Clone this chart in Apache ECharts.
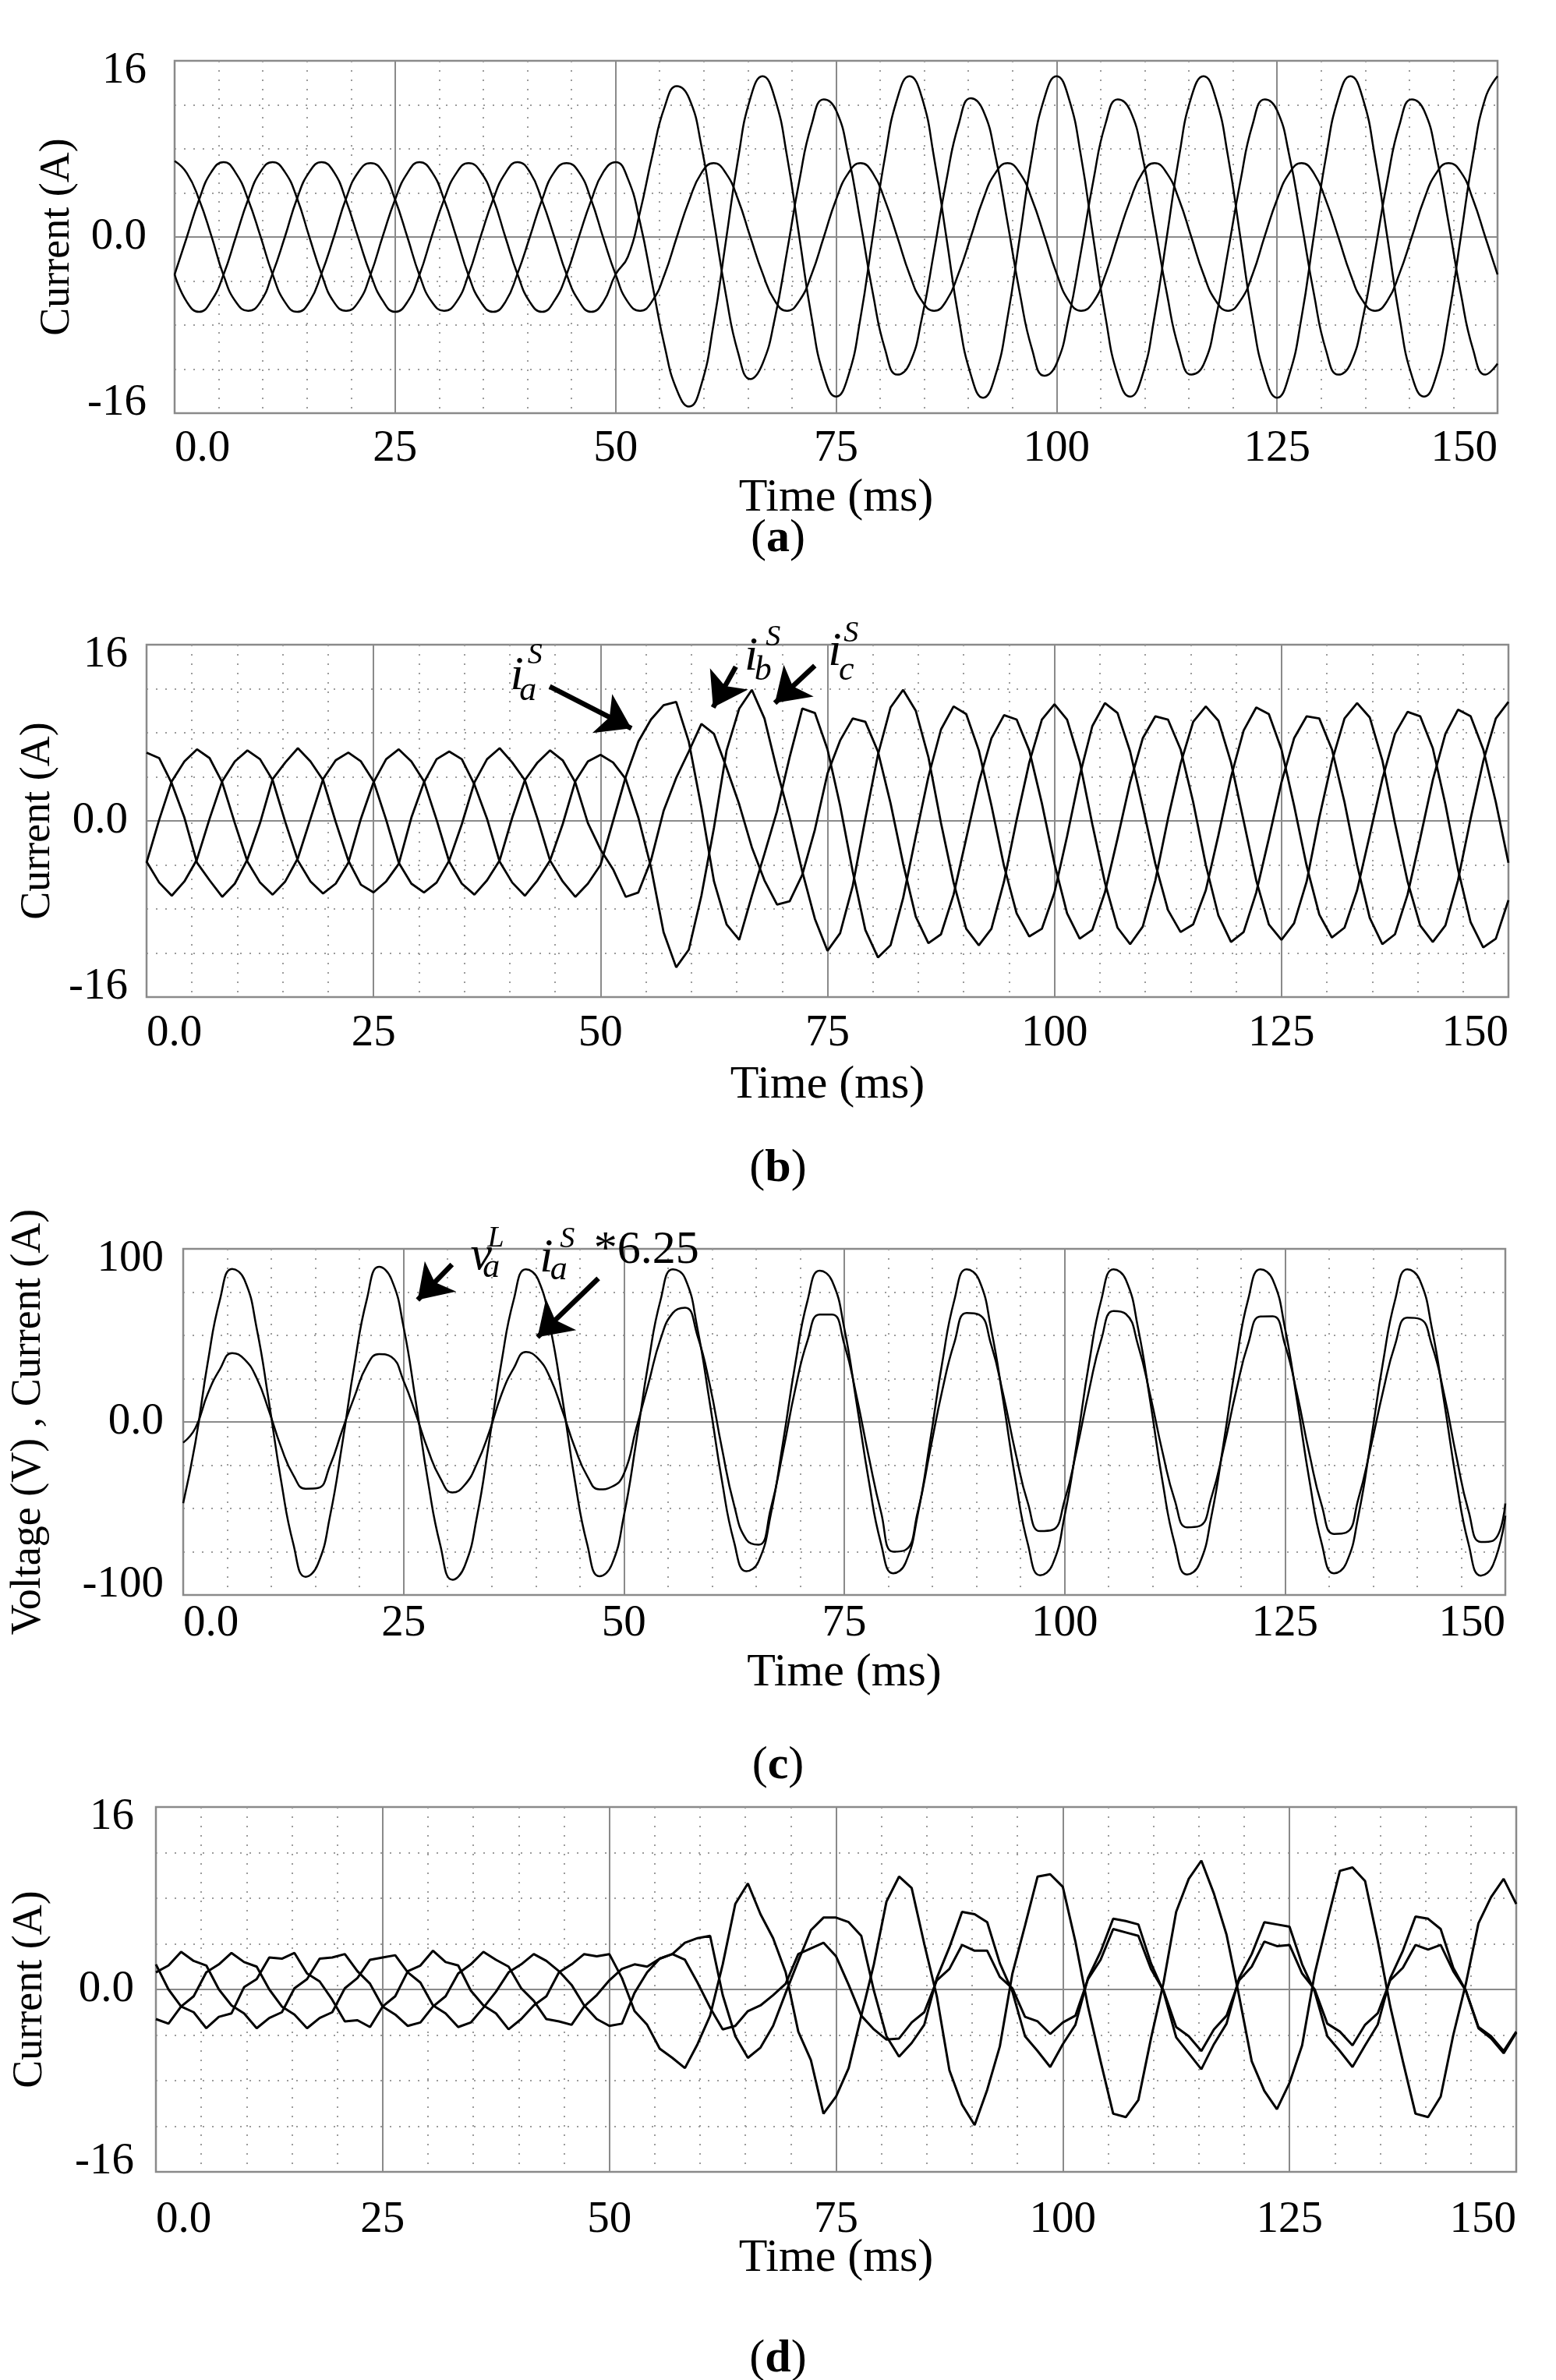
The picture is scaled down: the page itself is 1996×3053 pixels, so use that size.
<!DOCTYPE html>
<html>
<head>
<meta charset="utf-8">
<title>Load, source and compensation currents</title>
<script src="https://cdn.jsdelivr.net/npm/echarts@6/dist/echarts.min.js"></script>
<style>
  html, body { margin: 0; padding: 0; background: #fff; }
  #chart { width: 1996px; height: 3053px; }
</style>
</head>
<body>
<div id="chart"></div>
<script>
// samples are 30 deg of the 60 Hz cycle apart: 108 steps over 150 ms
const timeSpan = 150;
const xTicks = [0, 25, 50, 75, 100, 125, 150];

// (a) load currents
const loadCurA = [6.9, 5.8, 3.4, 0.1, -3.5, -5.9, -6.7, -5.9, -3.3, 0.0, 3.5, 5.9,
  6.8, 5.9, 3.3, -0.1, -3.4, -5.8, -6.8, -5.9, -3.4, 0.1, 3.4, 5.8,
  6.7, 5.9, 3.5, 0.0, -3.4, -5.9, -6.8, -5.8, -3.4, 0.0, 3.3, 5.9,
  6.8, 5.3, 1.3, -4.3, -9.9, -13.9, -15.4, -13.4, -7.9, -0.4, 7.1, 12.6,
  14.6, 12.6, 7.3, 0.0, -7.3, -12.6, -14.5, -12.6, -7.3, 0.1, 7.3, 12.6,
  14.6, 12.7, 7.2, 0.0, -7.3, -12.5, -14.6, -12.6, -7.3, 0.0, 7.4, 12.6,
  14.6, 12.6, 7.3, -0.1, -7.3, -12.6, -14.5, -12.6, -7.2, 0.0, 7.3, 12.7,
  14.6, 12.6, 7.3, 0.0, -7.4, -12.6, -14.6, -12.5, -7.3, 0.1, 7.3, 12.6,
  14.6, 12.6, 7.2, 0.0, -7.3, -12.6, -14.5, -12.6, -7.3, 0.0, 7.3, 12.6,
  14.6];
const loadCurB = [-3.4, 0.0, 3.4, 5.9, 6.8, 5.8, 3.4, 0.1, -3.4, -5.9, -6.8, -5.9,
  -3.3, 0.0, 3.5, 5.9, 6.7, 5.9, 3.4, 0.0, -3.5, -5.9, -6.7, -5.9,
  -3.4, 0.1, 3.4, 5.8, 6.8, 5.9, 3.3, 0.0, -3.4, -5.8, -6.8, -5.9,
  -3.4, -1.8, 2.3, 7.4, 11.8, 13.7, 12.6, 8.3, 1.6, -5.2, -10.5, -12.9,
  -11.5, -7.4, -1.3, 5.1, 10.2, 12.5, 11.5, 7.4, 1.3, -5.1, -10.2, -12.5,
  -11.5, -7.4, -1.3, 5.1, 10.2, 12.6, 11.5, 7.4, 1.3, -5.1, -10.2, -12.6,
  -11.5, -7.3, -1.3, 5.1, 10.3, 12.5, 11.5, 7.4, 1.2, -5.1, -10.2, -12.5,
  -11.6, -7.4, -1.3, 5.0, 10.2, 12.5, 11.5, 7.4, 1.3, -5.1, -10.3, -12.5,
  -11.5, -7.4, -1.3, 5.1, 10.2, 12.5, 11.5, 7.4, 1.3, -5.1, -10.2, -12.5,
  -11.5];
const loadCurC = [-3.4, -5.9, -6.8, -5.8, -3.4, 0.0, 3.4, 5.9, 6.8, 5.9, 3.5, 0.0,
  -3.4, -5.9, -6.7, -5.9, -3.4, 0.1, 3.4, 5.8, 6.8, 5.9, 3.4, 0.0,
  -3.5, -5.9, -6.8, -5.9, -3.3, 0.0, 3.4, 5.9, 6.7, 5.9, 3.4, -0.1,
  -3.4, -5.9, -6.7, -5.8, -3.4, 0.0, 3.3, 5.8, 6.7, 5.8, 3.4, 0.0,
  -3.3, -5.8, -6.7, -5.8, -3.4, 0.0, 3.4, 5.8, 6.7, 5.8, 3.3, 0.0,
  -3.4, -5.8, -6.7, -5.8, -3.3, 0.0, 3.4, 5.8, 6.7, 5.8, 3.4, 0.1,
  -3.3, -5.8, -6.7, -5.9, -3.4, 0.0, 3.3, 5.8, 6.7, 5.8, 3.4, 0.0,
  -3.4, -5.8, -6.7, -5.8, -3.4, 0.1, 3.4, 5.8, 6.7, 5.8, 3.3, 0.0,
  -3.4, -5.8, -6.7, -5.8, -3.3, 0.0, 3.4, 5.8, 6.7, 5.9, 3.4, 0.0,
  -3.4];

// (b) source currents
const srcCurA = [-3.8, 0.1, 3.6, 5.4, 6.5, 5.7, 3.5, -0.2, -3.7, -5.6, -6.7, -5.5,
  -3.4, 0.2, 3.8, 5.5, 6.2, 5.4, 3.6, 0.1, -3.8, -5.7, -6.5, -5.6,
  -3.6, -0.3, 3.5, 5.6, 6.6, 5.3, 3.7, 0.2, -3.6, -5.5, -6.9, -5.7,
  -4.0, 0.0, 4.0, 7.2, 9.2, 10.5, 10.8, 7.2, 1.2, -5.5, -9.4, -10.8,
  -6.8, -3.0, 0.9, 5.8, 10.2, 9.8, 6.5, 1.4, -4.6, -9.9, -12.4, -11.3,
  -7.0, -1.4, 4.0, 8.3, 10.4, 9.7, 6.4, 1.4, -4.1, -8.4, -10.5, -9.8,
  -6.5, -1.4, 4.1, 8.6, 10.7, 9.8, 6.3, 1.3, -3.9, -8.1, -10.1, -9.4,
  -6.3, -1.3, 4.0, 8.2, 10.3, 9.7, 6.5, 1.4, -4.1, -8.5, -10.6, -9.7,
  -6.3, -1.3, 3.8, 7.9, 9.9, 9.5, 6.6, 1.5, -4.4, -9.2, -11.5, -10.7,
  -7.2];
const srcCurB = [-3.7, -5.6, -6.8, -5.5, -3.5, 0.2, 3.6, 5.4, 6.4, 5.6, 3.7, -0.1,
  -3.6, -5.5, -6.6, -5.7, -3.8, 0.2, 3.5, 5.6, 6.5, 5.4, 3.6, 0.1,
  -3.7, -5.7, -6.7, -5.4, -3.6, 0.3, 3.7, 5.3, 6.4, 5.5, 3.5, -0.2,
  -2.6, -4.4, -6.9, -6.5, -3.6, 0.9, 3.9, 6.3, 8.8, 7.9, 4.8, 1.5,
  -2.4, -5.4, -7.6, -7.3, -4.9, -0.8, 4.3, 7.3, 9.3, 9.0, 6.3, 1.6,
  -3.9, -8.7, -11.1, -10.3, -6.7, -1.6, 3.5, 7.5, 9.6, 9.2, 6.4, 1.6,
  -3.9, -8.4, -10.7, -9.9, -6.5, -1.6, 3.5, 7.5, 9.5, 9.2, 6.5, 1.7,
  -4.0, -8.6, -11.0, -10.1, -6.5, -1.6, 3.5, 7.5, 9.5, 9.3, 6.5, 1.7,
  -4.0, -8.8, -11.2, -10.3, -6.7, -1.6, 3.7, 7.9, 10.1, 9.5, 6.5, 1.7,
  -3.8];
const srcCurC = [6.2, 5.7, 3.4, 0.3, -3.8, -5.4, -6.9, -5.7, -3.5, -0.2, 3.8, 5.3,
  6.6, 5.4, 3.7, -0.1, -3.6, -5.8, -6.5, -5.5, -3.9, 0.3, 3.5, 5.6,
  6.3, 5.6, 3.3, 0.2, -3.7, -5.6, -6.8, -5.4, -3.6, -0.3, 3.6, 5.4,
  6.0, 5.3, 3.8, 0.3, -4.2, -10.1, -13.3, -11.7, -6.8, -0.6, 6.4, 10.2,
  11.9, 9.3, 4.6, 0.3, -4.6, -8.9, -11.8, -10.2, -5.9, 0.2, 6.0, 10.3,
  11.9, 10.0, 5.8, -0.2, -5.6, -9.8, -11.3, -9.8, -5.5, 0.1, 5.3, 9.2,
  10.6, 9.2, 5.4, -0.3, -5.6, -9.7, -11.2, -9.6, -5.4, 0.2, 5.2, 9.0,
  10.4, 9.1, 5.3, 0.0, -5.4, -9.4, -10.8, -9.3, -5.5, 0.3, 5.4, 9.3,
  10.7, 9.4, 5.5, -0.2, -5.5, -9.5, -11.0, -9.5, -5.4, 0.2, 5.4, 9.3,
  10.8];

// (c) load voltage and scaled source current of phase a
const loadVoltA = [-47.0, -11.7, 34.1, 70.6, 88.4, 82.2, 54.2, 11.7, -34.1, -70.6, -89.5, -82.2,
  -54.2, -12.4, 33.5, 70.8, 89.6, 82.6, 54.9, 11.7, -34.5, -71.2, -91.2, -83.2,
  -54.6, -11.0, 34.6, 70.6, 88.2, 82.2, 54.2, 12.3, -34.1, -70.6, -89.2, -82.6,
  -54.2, -11.7, 34.1, 70.6, 88.2, 82.9, 54.2, 11.7, -33.6, -69.4, -86.3, -80.6,
  -53.4, -11.7, 33.6, 70.1, 87.4, 81.5, 54.2, 11.2, -33.8, -70.2, -87.5, -81.5,
  -53.6, -11.7, 34.1, 70.6, 88.2, 82.2, 53.6, 11.7, -34.1, -70.6, -88.6, -82.6,
  -54.2, -12.2, 34.1, 70.6, 88.2, 82.2, 54.2, 11.7, -34.6, -70.6, -88.2, -82.2,
  -54.2, -11.7, 34.1, 71.0, 88.2, 82.2, 54.2, 11.7, -33.9, -70.2, -87.5, -81.7,
  -54.0, -11.7, 34.1, 70.6, 88.2, 82.2, 54.2, 11.7, -34.1, -70.6, -88.8, -82.6,
  -54.2];
const srcCurA625 = [-12.0, -3.5, 16.2, 30.5, 39.8, 36.2, 25.3, 6.5, -14.6, -30.8, -38.6, -38.2,
  -25.1, -4.6, 14.8, 32.4, 39.2, 37.6, 23.8, 4.6, -16.2, -32.5, -40.8, -36.4,
  -24.0, -5.8, 15.9, 31.0, 40.4, 36.5, 25.0, 5.9, -15.0, -31.2, -39.0, -37.5,
  -30.0, -4.0, 22.0, 48.0, 63.0, 66.0, 50.0, 22.0, -15.0, -48.0, -68.0, -71.0,
  -50.0, -17.0, 19.0, 47.0, 62.0, 62.0, 45.0, 15.0, -20.0, -52.0, -75.0, -74.0,
  -52.0, -17.0, 18.0, 46.0, 63.0, 62.0, 44.6, 15.4, -18.1, -46.9, -63.1, -62.4,
  -45.3, -15.7, 18.4, 47.7, 64.1, 62.4, 44.3, 15.2, -17.6, -45.3, -60.9, -60.2,
  -43.4, -15.0, 17.5, 45.3, 60.9, 61.0, 44.6, 15.7, -18.6, -48.1, -64.7, -63.9,
  -44.3, -14.8, 17.3, 44.8, 60.2, 59.5, 44.3, 16.0, -19.9, -51.6, -69.4, -68.6,
  -47.1];

// (d) compensating currents
const compCur1 = [2.2, 0.0, -1.5, -2.0, -3.4, -2.4, -2.1, 0.2, 0.9, 2.8, 2.7, 3.2,
  1.4, 0.7, -0.9, -2.8, -2.7, -3.3, -1.5, -0.6, 1.6, 2.1, 3.4, 2.4,
  2.1, -0.1, -1.4, -2.1, -3.5, -2.6, -1.4, -0.6, 1.5, 2.2, 3.1, 2.9,
  3.1, 1.0, -1.9, -3.1, -5.2, -6.0, -6.9, -4.8, -2.3, 2.2, 7.5, 9.3,
  6.6, 4.5, 1.5, -3.7, -6.2, -10.9, -9.4, -6.9, -2.3, 2.2, 7.7, 9.9,
  8.9, 4.0, -0.6, -7.1, -10.1, -11.9, -8.8, -5.0, 1.4, 5.6, 9.9, 10.1,
  9.0, 4.2, -1.5, -6.3, -10.9, -11.2, -9.7, -4.3, 0.6, 6.8, 9.7, 11.3,
  8.4, 4.8, -0.6, -6.3, -8.9, -10.5, -8.2, -4.9, 1.4, 6.0, 10.4, 10.7,
  9.5, 4.3, -1.5, -6.3, -10.9, -11.2, -9.4, -4.0, 0.5, 5.8, 8.1, 9.7,
  7.5];
const compCur2 = [1.5, 2.1, 3.3, 2.5, 2.1, 0.0, -1.4, -2.1, -3.4, -2.5, -2.0, 0.1,
  0.9, 2.7, 2.8, 3.1, 1.6, 0.5, -1.5, -2.2, -3.2, -2.9, -1.5, -0.6,
  1.4, 2.2, 3.3, 2.6, 2.0, 0.1, -1.0, -2.6, -2.8, -3.1, -1.5, -0.5,
  0.8, 1.8, 2.2, 2.0, 2.7, 3.1, 4.1, 4.5, 4.7, -0.5, -4.1, -6.0,
  -5.1, -3.2, -0.3, 2.5, 5.2, 6.3, 6.3, 5.9, 4.7, -0.1, -4.1, -5.9,
  -4.7, -3.1, 1.0, 3.7, 6.8, 6.6, 5.9, 2.3, -0.2, -4.1, -5.4, -6.8,
  -4.8, -3.1, 1.0, 3.3, 6.2, 6.0, 5.7, 2.3, -0.2, -4.2, -5.6, -7.0,
  -4.8, -3.0, 1.0, 3.1, 5.9, 5.7, 5.5, 2.2, -0.2, -4.1, -5.4, -6.8,
  -4.9, -3.1, 1.0, 3.4, 6.4, 6.2, 5.3, 1.9, -0.1, -3.3, -4.1, -5.4,
  -3.7];
const compCur3 = [-2.6, -3.0, -1.5, -0.6, 1.5, 2.2, 3.2, 2.4, 2.0, 0.0, -1.5, -2.2,
  -3.4, -2.5, -2.0, 0.1, 1.0, 2.6, 2.8, 3.0, 1.5, 0.6, -1.4, -2.1,
  -3.3, -2.9, -1.6, -0.2, 1.5, 2.2, 3.1, 2.5, 1.6, 0.4, -1.4, -2.6,
  -3.2, -3.0, -0.3, 1.5, 2.7, 3.1, 2.6, 0.6, -1.6, -3.5, -3.2, -1.9,
  -1.4, -0.5, 0.5, 3.1, 3.6, 4.1, 2.9, 0.4, -2.3, -3.5, -4.4, -4.3,
  -2.9, -2.0, 0.8, 1.8, 3.9, 3.4, 3.4, 1.1, 0.1, -2.4, -2.8, -3.9,
  -2.9, -2.3, 0.9, 2.6, 5.3, 5.0, 4.7, 1.8, -0.1, -3.3, -4.1, -5.4,
  -3.5, -2.3, 0.8, 2.0, 4.2, 3.8, 3.9, 1.4, 0.0, -3.0, -3.7, -4.9,
  -3.1, -2.1, 0.8, 1.9, 3.9, 3.5, 3.9, 1.6, -0.1, -3.4, -4.3, -5.6,
  -3.8];

const FONT = '"Liberation Serif", "Times New Roman", serif';

const panels = [
  { grid: { left: 224, top: 78, width: 1697, height: 452 }, yMax: 16, yName: 'Current (A)',
    yNameGap: 123, yLabelMargin: 36, xLabelMargin: 18, xNameGap: 79, smooth: true, width: 2.5,
    series: [loadCurA, loadCurB, loadCurC] },
  { grid: { left: 188, top: 827, width: 1747, height: 452 }, yMax: 16, yName: 'Current (A)',
    yNameGap: 112, yLabelMargin: 24, xLabelMargin: 19, xNameGap: 83, smooth: false, width: 2.8,
    series: [srcCurA, srcCurB, srcCurC] },
  { grid: { left: 235, top: 1602, width: 1696, height: 444 }, yMax: 100, yName: 'Voltage (V) , Current (A)',
    yNameGap: 171, yLabelMargin: 25, xLabelMargin: 9, xNameGap: 70, smooth: true, width: 2.5,
    series: [loadVoltA, srcCurA625] },
  { grid: { left: 200, top: 2318, width: 1745, height: 468 }, yMax: 16, yName: 'Current (A)',
    yNameGap: 134, yLabelMargin: 28, xLabelMargin: 34, xNameGap: 81, smooth: false, width: 3,
    series: [compCur1, compCur2, compCur3] }
];

// arrows in data coordinates: [grid, from, to]
const arrows = [
  [1, [44.4, 12.2], [53.4, 8.4]],
  [1, [64.9, 14.0], [62.4, 10.3]],
  [1, [73.6, 14.1], [69.2, 10.7]],
  [2, [30.5, 91.0], [26.6, 70.5]],
  [2, [47.1, 82.9], [40.2, 49.0]]
];

// symbol labels: main glyph anchored in data coords, sub/superscript offsets in px
const symbolLabels = [
  { grid: 1, at: [40.8, 13.1], main: 'i', sub: 'a', sup: 'S', subOff: [14, 18], supOff: [23, -27] },
  { grid: 1, at: [66.6, 14.9], main: 'i', sub: 'b', sup: 'S', subOff: [15, 18], supOff: [28, -25] },
  { grid: 1, at: [75.8, 15.3], main: 'i', sub: 'c', sup: 'S', subOff: [15, 24], supOff: [21, -24] },
  { grid: 2, at: [33.8, 95.5], main: 'v', sub: 'a', sup: 'L', subOff: [13, 14], supOff: [19, -23] },
  { grid: 2, at: [41.2, 94.2], main: 'i', sub: 'a', sup: 'S', subOff: [16, 15], supOff: [27, -25],
    tail: '*6.25', tailOff: [61, -11] }
];

const subfigLabels = [['a', 691], ['b', 1499], ['c', 2265], ['d', 3026]];

function toPairs(vals) {
  const step = timeSpan / (vals.length - 1);
  return vals.map((v, k) => [k * step, v]);
}

function tickText(v) {
  return v === 0 ? '0.0' : String(v);
}

const option = { animation: false, backgroundColor: '#fff', grid: [], xAxis: [], yAxis: [], series: [] };

panels.forEach((p, i) => {
  option.grid.push(Object.assign({
    show: true, borderColor: '#8a8a8a', borderWidth: 2.5, backgroundColor: 'transparent',
    containLabel: false, outerBoundsMode: 'none'
  }, p.grid));

  option.xAxis.push({
    gridIndex: i, type: 'value', min: xTicks[0], max: xTicks[xTicks.length - 1], interval: 25,
    axisLine: { show: false }, axisTick: { show: false },
    axisLabel: { margin: p.xLabelMargin, color: '#000', fontFamily: FONT, fontSize: 57,
      formatter: tickText, alignMinLabel: 'left', alignMaxLabel: 'right', showMinLabel: true, showMaxLabel: true },
    splitLine: { show: true, lineStyle: { color: '#8a8a8a', width: 2 } },
    minorTick: { show: false, splitNumber: 5 },
    minorSplitLine: { show: true, lineStyle: { color: '#9c9c9c', width: 2, type: [2, 10] } },
    name: 'Time (ms)', nameLocation: 'middle', nameGap: p.xNameGap, nameMoveOverlap: false,
    nameTextStyle: { color: '#000', fontFamily: FONT, fontSize: 60 }
  });

  option.yAxis.push({
    gridIndex: i, type: 'value', min: -p.yMax, max: p.yMax, interval: p.yMax,
    axisLine: { show: false }, axisTick: { show: false },
    axisLabel: { margin: p.yLabelMargin, color: '#000', fontFamily: FONT, fontSize: 57, lineHeight: 26,
      formatter: tickText, verticalAlignMinLabel: 'bottom', verticalAlignMaxLabel: 'top',
      showMinLabel: true, showMaxLabel: true },
    splitLine: { show: true, lineStyle: { color: '#8a8a8a', width: 2 } },
    minorTick: { show: false, splitNumber: 4 },
    minorSplitLine: { show: true, lineStyle: { color: '#9c9c9c', width: 2, type: [2, 10] } },
    name: p.yName, nameLocation: 'middle', nameGap: p.yNameGap, nameRotate: 90, nameMoveOverlap: false,
    nameTextStyle: { color: '#000', fontFamily: FONT, fontSize: 54 }
  });

  p.series.forEach((vals, j) => {
    const s = {
      type: 'line', xAxisIndex: i, yAxisIndex: i, data: toPairs(vals),
      showSymbol: false, symbol: 'none', smooth: p.smooth, silent: true, z: 3,
      lineStyle: { color: '#000', width: p.width }
    };
    const own = arrows.filter(a => a[0] === i);
    if (j === 0 && own.length) {
      s.markLine = {
        silent: true, animation: false, symbol: ['none', 'arrow'], symbolSize: 42,
        label: { show: false },
        lineStyle: { color: '#000', width: 6.5, type: 'solid' },
        data: own.map(a => [{ coord: a[1] }, { coord: a[2] }])
      };
    }
    option.series.push(s);
  });
});

const chart = echarts.init(document.getElementById('chart'));
chart.setOption(option);

function txt(x, y, text, font, align) {
  return { type: 'text', x: x, y: y, silent: true, z: 20,
    style: { text: text, font: font, fill: '#000', align: align || 'center', verticalAlign: 'middle' } };
}

const graphics = [];
subfigLabels.forEach(([letter, y]) => {
  graphics.push({ type: 'text', x: 998, y: y, silent: true, z: 20,
    style: { text: '{p|(}{b|' + letter + '}{p|)}', align: 'center', verticalAlign: 'middle', fill: '#000',
      rich: { p: { fontFamily: FONT, fontSize: 60, fill: '#000' },
              b: { fontFamily: FONT, fontSize: 60, fontWeight: 'bold', fill: '#000' } } } });
});
symbolLabels.forEach(l => {
  const [px, py] = chart.convertToPixel({ gridIndex: l.grid }, l.at);
  graphics.push(txt(px, py, l.main, 'italic 62px ' + FONT));
  graphics.push(txt(px + l.subOff[0], py + l.subOff[1], l.sub, 'italic 44px ' + FONT));
  graphics.push(txt(px + l.supOff[0], py + l.supOff[1], l.sup, 'italic 38px ' + FONT));
  if (l.tail) {
    graphics.push(txt(px + l.tailOff[0], py + l.tailOff[1], l.tail, '60px ' + FONT, 'left'));
  }
});
chart.setOption({ graphic: graphics });
</script>
</body>
</html>
